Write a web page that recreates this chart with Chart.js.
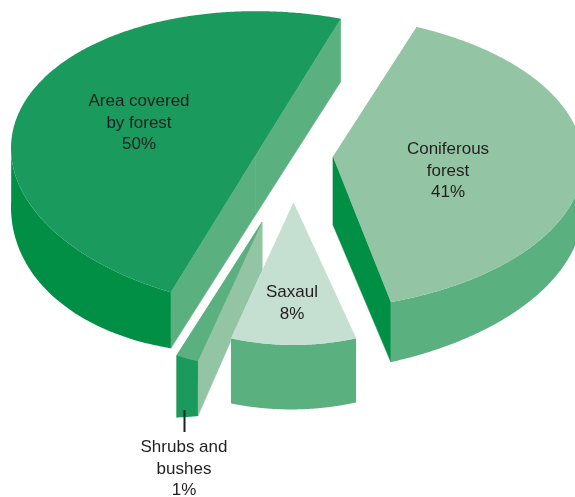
<!DOCTYPE html>
<html>
<head>
<meta charset="utf-8">
<style>
  html, body { margin: 0; padding: 0; background: #fff; }
  #wrap { width: 575px; height: 497px; position: relative; }
  canvas { display: block; }
</style>
<script src="https://cdn.jsdelivr.net/npm/chart.js@4/dist/chart.umd.js"></script>
</head>
<body>
<div id="wrap"><canvas id="pie" width="575" height="497"></canvas></div>
<script>
// Land cover shares, in percent, clockwise from the first cut
const categories = ['Coniferous forest', 'Saxaul', 'Shrubs and bushes', 'Area covered by forest'];
const shares = [41, 8, 1, 50];
const labelLines = [['Coniferous', 'forest'], ['Saxaul'], ['Shrubs and', 'bushes'], ['Area covered', 'by forest']];

// Face colours of each solid slice; cut faces hidden under the top take the top's colour
const topColors = ['#93c4a4', '#c5dfd0', '#5bb07f', '#1a9b5d'];
const rimColors = ['#5bb07f', '#5bb07f', '#1a9b5d', '#008f45'];
const startCutColors = ['#93c4a4', '#c5dfd0', '#93c4a4', '#5bb07f'];
const endCutColors = ['#008f45', '#c5dfd0', '#5bb07f', '#5bb07f'];

// Solid shape of each exploded slice, all relative to the chart centre and radius
const firstCut = 20;
const pieRadius = 248;
const apexShift = [[45.5, -91.5], [6, -45.5], [-25.5, -26.5], [-32, -93]];
const discShift = [[10, -86.4], [6, -33.5], [-25.5, -10.5], [-8.6, -87.6]];
const radiusScale = [1.152, 0.806, 0.806, 1.082];
const flatten = [0.5194, 0.65, 0.65, 0.5551];
const discTurn = [-0.2, 0, 0, 3.93];
const rimStartAt = [-65.2, 71.8, 108.7, 111.6];
const rimStretch = [0.923, 1.264, 1.83, 0.942];

// Extrusion: at the apex, at the two cut corners, and along the rim as [fraction, depth] knots
const apexDepth = [68, 64, 48, 59.5];
const cutDepth = [[60, 60], [64, 64], [55, 62], [56, 63]];
const rimDepth = [
  [[0, 34], [1, 60]],
  [[0, 64], [1, 65]],
  [[0, 55], [1, 62]],
  [[0, 56], [0.05, 60.2], [0.1, 63.2], [0.15, 65.2], [0.2, 66], [0.25, 65.7], [0.3, 64.2], [0.35, 61.7], [0.4, 58]]
];
const paintOrder = [3, 0, 2, 1];

// Text placement: centre x and first baseline
const textPlaces = [[448, 154], [292, 297], [184, 452], [139, 106]];
const lineStep = 21.5;
const textColor = '#231f20';

const rad = d => d * Math.PI / 180;

function depthAlong(knots, s) {
  for (let k = 1; k < knots.length; k++) {
    if (s <= knots[k][0]) {
      const [s0, d0] = knots[k - 1], [s1, d1] = knots[k];
      return d0 + (d1 - d0) * (s - s0) / (s1 - s0);
    }
  }
  return knots[knots.length - 1][1];
}

const solidPie = {
  id: 'solidPie',
  beforeDatasetsDraw(chart) {
    const ctx = chart.ctx;
    const arcs = chart.getDatasetMeta(0).data;
    paintOrder.forEach(i => {
      const arc = arcs[i];
      const { x, y, startAngle, endAngle, outerRadius } = arc.getProps(['x', 'y', 'startAngle', 'endAngle', 'outerRadius'], true);
      const apex = [x + apexShift[i][0], y + apexShift[i][1]];
      const ox = x + discShift[i][0], oy = y + discShift[i][1];
      const ra = outerRadius * radiusScale[i], rb = ra * flatten[i];
      const cosT = Math.cos(rad(discTurn[i])), sinT = Math.sin(rad(discTurn[i]));
      const paramOf = a => rad(rimStartAt[i]) + (a - startAngle) * rimStretch[i];
      const rimAt = a => {
        const t = paramOf(a);
        const px = ra * Math.cos(t), py = rb * Math.sin(t);
        return [ox + px * cosT - py * sinT, oy + px * sinT + py * cosT];
      };
      const quad = (p, q, dp, dq, fill) => {
        ctx.beginPath();
        ctx.moveTo(p[0], p[1]);
        ctx.lineTo(q[0], q[1]);
        ctx.lineTo(q[0], q[1] + dq);
        ctx.lineTo(p[0], p[1] + dp);
        ctx.closePath();
        ctx.fillStyle = fill;
        ctx.fill();
        // closes the hairline between neighbouring faces of one colour
        ctx.strokeStyle = fill;
        ctx.lineWidth = 0.5;
        ctx.stroke();
      };

      // the two flat cut faces, the one hidden under the top first
      const startFace = () => quad(apex, rimAt(startAngle), apexDepth[i], cutDepth[i][0], startCutColors[i]);
      const endFace = () => quad(apex, rimAt(endAngle), apexDepth[i], cutDepth[i][1], endCutColors[i]);
      if (startCutColors[i] === topColors[i]) {
        startFace();
        endFace();
      } else {
        endFace();
        startFace();
      }

      // the curved outer face, only where it turns towards the viewer
      const steps = 360;
      const front = [];
      for (let s = 0; s <= steps; s++) {
        const a = startAngle + (endAngle - startAngle) * s / steps;
        if (Math.sin(paramOf(a)) >= 0) front.push([rimAt(a), depthAlong(rimDepth[i], s / steps)]);
      }
      ctx.beginPath();
      front.forEach(([p], n) => n ? ctx.lineTo(p[0], p[1]) : ctx.moveTo(p[0], p[1]));
      front.slice().reverse().forEach(([p, d]) => ctx.lineTo(p[0], p[1] + d));
      ctx.closePath();
      ctx.fillStyle = rimColors[i];
      ctx.fill();

      // the top face follows the arc element's own angles and colour
      ctx.beginPath();
      ctx.moveTo(apex[0], apex[1]);
      for (let s = 0; s <= steps; s++) {
        const p = rimAt(startAngle + (endAngle - startAngle) * s / steps);
        ctx.lineTo(p[0], p[1]);
      }
      ctx.closePath();
      ctx.fillStyle = arc.options.backgroundColor;
      ctx.fill();
    });
    return false;
  },
  afterDraw(chart) {
    const ctx = chart.ctx;
    ctx.save();
    ctx.fillStyle = textColor;
    ctx.font = '17px "Liberation Sans", Arial, sans-serif';
    ctx.textAlign = 'center';
    ctx.textBaseline = 'alphabetic';
    categories.forEach((_, i) => {
      const lines = labelLines[i].concat(shares[i] + '%');
      lines.forEach((t, n) => ctx.fillText(t, textPlaces[i][0], textPlaces[i][1] + n * lineStep));
    });
    // leader from the smallest slice down to its caption
    ctx.strokeStyle = textColor;
    ctx.lineWidth = 2;
    ctx.beginPath();
    ctx.moveTo(184.5, 410);
    ctx.lineTo(184.5, 432);
    ctx.stroke();
    ctx.restore();
  }
};

new Chart(document.getElementById('pie'), {
  type: 'pie',
  data: {
    labels: categories,
    datasets: [{
      data: shares,
      backgroundColor: topColors,
      borderWidth: 0,
      radius: pieRadius
    }]
  },
  options: {
    responsive: false,
    animation: false,
    rotation: firstCut,
    layout: { padding: 0 },
    plugins: { legend: { display: false }, tooltip: { enabled: false } }
  },
  plugins: [solidPie]
});
</script>
</body>
</html>
